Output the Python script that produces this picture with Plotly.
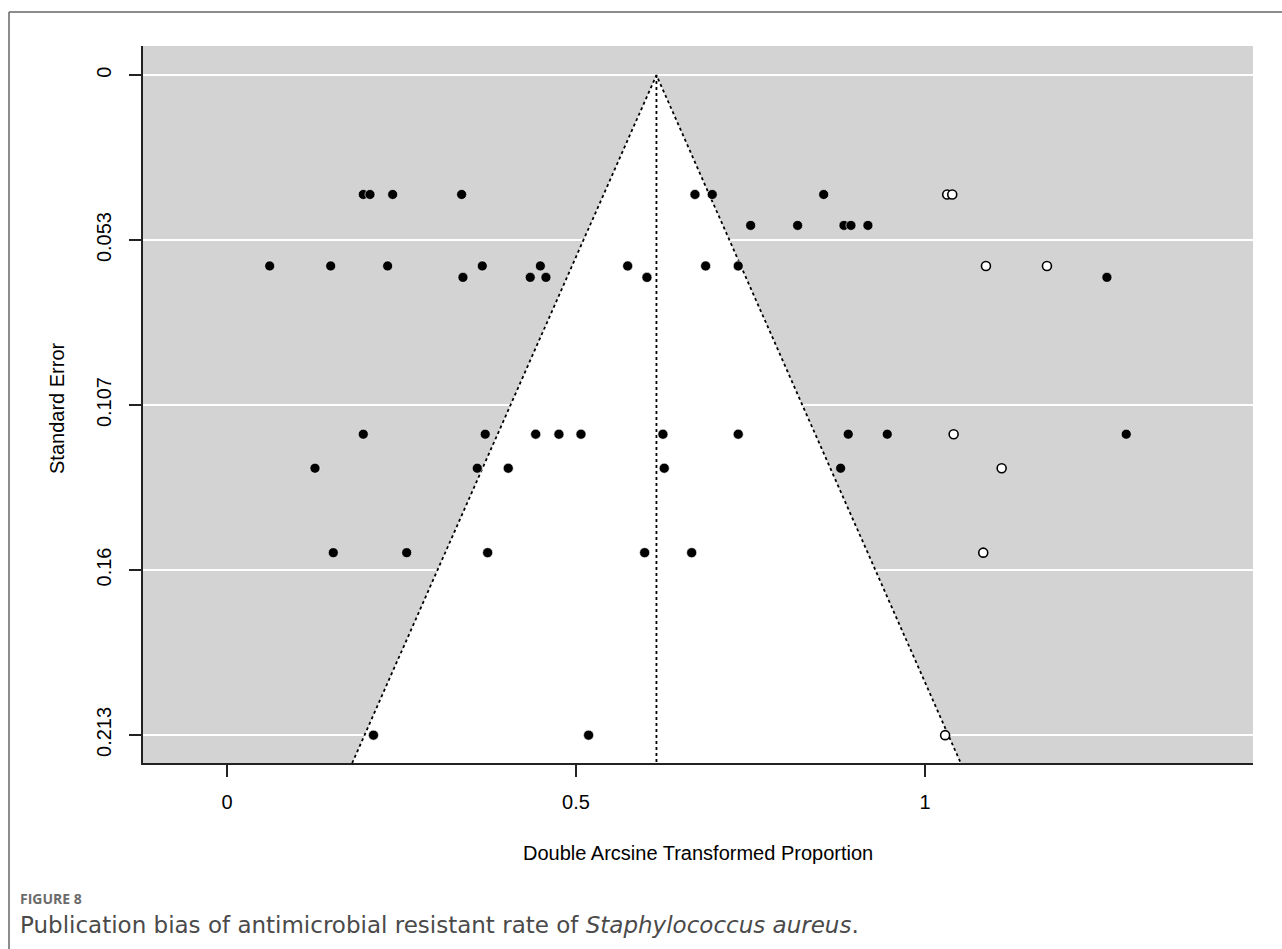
import plotly.graph_objects as go

# Observed studies (filled points)
obs_x = [0.1953, 0.2049, 0.2374, 0.3362, 0.6705, 0.6953, 0.8549,
         0.7503, 0.8176, 0.8840, 0.8940, 0.9183,
         0.0612, 0.1486, 0.2302, 0.3658, 0.4490, 0.5741, 0.6858, 0.7325,
         0.3381, 0.4345, 0.4570, 0.6017, 1.2607,
         0.1953, 0.3700, 0.4423, 0.4756, 0.5072, 0.6246, 0.7325, 0.8901, 0.9460, 1.2884,
         0.1261, 0.3586, 0.4030, 0.6265, 0.8792,
         0.1523, 0.2575, 0.3735, 0.5984, 0.6658,
         0.2099, 0.5181]
obs_se = [0.0386, 0.0386, 0.0386, 0.0386, 0.0386, 0.0386, 0.0386,
          0.0486, 0.0486, 0.0486, 0.0486, 0.0486,
          0.0617, 0.0617, 0.0617, 0.0617, 0.0617, 0.0617, 0.0617, 0.0617,
          0.0654, 0.0654, 0.0654, 0.0654, 0.0654,
          0.1161, 0.1161, 0.1161, 0.1161, 0.1161, 0.1161, 0.1161, 0.1161, 0.1161, 0.1161,
          0.1271, 0.1271, 0.1271, 0.1271, 0.1271,
          0.1544, 0.1544, 0.1544, 0.1544, 0.1544,
          0.2134, 0.2134]

# Imputed studies (trim-and-fill, open points)
fill_x = [1.0319, 1.0391, 1.0874, 1.1748, 1.0411, 1.1099, 1.0835, 1.0289]
fill_se = [0.0386, 0.0386, 0.0617, 0.0617, 0.1161, 0.1271, 0.1544, 0.2134]

center = 0.6153
y_tickvals = [0, 0.05333, 0.10667, 0.16, 0.21333]
y_ticktext = ["0", "0.053", "0.107", "0.16", "0.213"]
x_tickvals = [0, 0.5, 1]
x_ticktext = ["0", "0.5", "1"]

x_range = [-0.1203, 1.470]
y_bottom = 0.2224
y_top = -0.0094
z = 1.96

fig = go.Figure()

# White funnel region
lx = center - z * y_bottom
rx = center + z * y_bottom
fig.add_trace(go.Scatter(x=[lx, center, rx, lx], y=[y_bottom, 0, y_bottom, y_bottom],
                         mode="lines", fill="toself", fillcolor="white",
                         line=dict(width=0), hoverinfo="skip", showlegend=False))
# Funnel dotted lines
fig.add_trace(go.Scatter(x=[lx, center, rx], y=[y_bottom, 0, y_bottom], mode="lines",
                         line=dict(color="black", width=1.8, dash="dot"),
                         hoverinfo="skip", showlegend=False))
fig.add_trace(go.Scatter(x=[center, center], y=[0, y_bottom], mode="lines",
                         line=dict(color="black", width=1.8, dash="dot"),
                         hoverinfo="skip", showlegend=False))

fig.add_trace(go.Scatter(x=obs_x, y=obs_se, mode="markers",
                         marker=dict(color="black", size=10, line=dict(color="white", width=0.6)),
                         showlegend=False))
fig.add_trace(go.Scatter(x=fill_x, y=fill_se, mode="markers",
                         marker=dict(color="white", size=9, line=dict(color="black", width=1.6)),
                         showlegend=False))

W, H = 1282, 949
L, R, T, B = 143, 1253, 46, 763
pw, ph = R - L, B - T

def px(xp):
    return (xp - L) / pw

def py(yp):
    return (B - yp) / ph

fig.update_layout(
    width=W, height=H,
    margin=dict(l=L, r=W - R, t=T, b=H - B, autoexpand=False),
    paper_bgcolor="white", plot_bgcolor="#D3D3D3",
    font=dict(family="Liberation Sans, Arial, sans-serif", size=20, color="black"),
    xaxis=dict(range=x_range, tickvals=x_tickvals, ticktext=x_ticktext,
               showgrid=False, zeroline=False, showline=True, linecolor="#222",
               linewidth=2, ticks="outside", ticklen=12, tickwidth=1.5, tickcolor="#222",
               ticklabelstandoff=8, tickfont=dict(size=20)),
    yaxis=dict(range=[y_bottom, y_top], tickvals=y_tickvals, ticktext=y_ticktext,
               showgrid=True, gridcolor="white", gridwidth=1.5, zeroline=False,
               showline=True, linecolor="#222", linewidth=2, ticks="outside",
               ticklen=12, tickwidth=1.5, tickcolor="#222", tickangle=-90,
               ticklabelstandoff=10, tickfont=dict(size=20)),
    shapes=[
        dict(type="line", xref="paper", yref="paper", x0=px(9), x1=px(1282), y0=py(12), y1=py(12),
             line=dict(color="#666", width=1.5)),
        dict(type="line", xref="paper", yref="paper", x0=px(9), x1=px(9), y0=py(12), y1=py(949),
             line=dict(color="#666", width=1.5)),
    ],
    annotations=[
        dict(text="Standard Error", xref="paper", yref="paper", x=px(57), y=py(408),
             textangle=-90, showarrow=False, xanchor="center", yanchor="middle",
             font=dict(size=20)),
        dict(text="Double Arcsine Transformed Proportion", xref="paper", yref="paper",
             x=px(698), y=py(853), showarrow=False, xanchor="center", yanchor="middle",
             font=dict(size=20)),
        dict(text="<b>FIGURE 8</b>", xref="paper", yref="paper", x=px(18), y=py(898),
             showarrow=False, xanchor="left", yanchor="middle",
             font=dict(family="Open Sans, Noto Sans, sans-serif", size=14, color="#6b6b6b")),
        dict(text="Publication bias of antimicrobial resistant rate of <i>Staphylococcus aureus</i>.",
             xref="paper", yref="paper", x=px(18), y=py(925), showarrow=False,
             xanchor="left", yanchor="middle",
             font=dict(family="DejaVu Sans, sans-serif", size=23, color="#4a4a4a")),
    ],
)

fig.write_html("out.html", config={"displayModeBar": False},
               post_script="document.body.style.margin='0';")
